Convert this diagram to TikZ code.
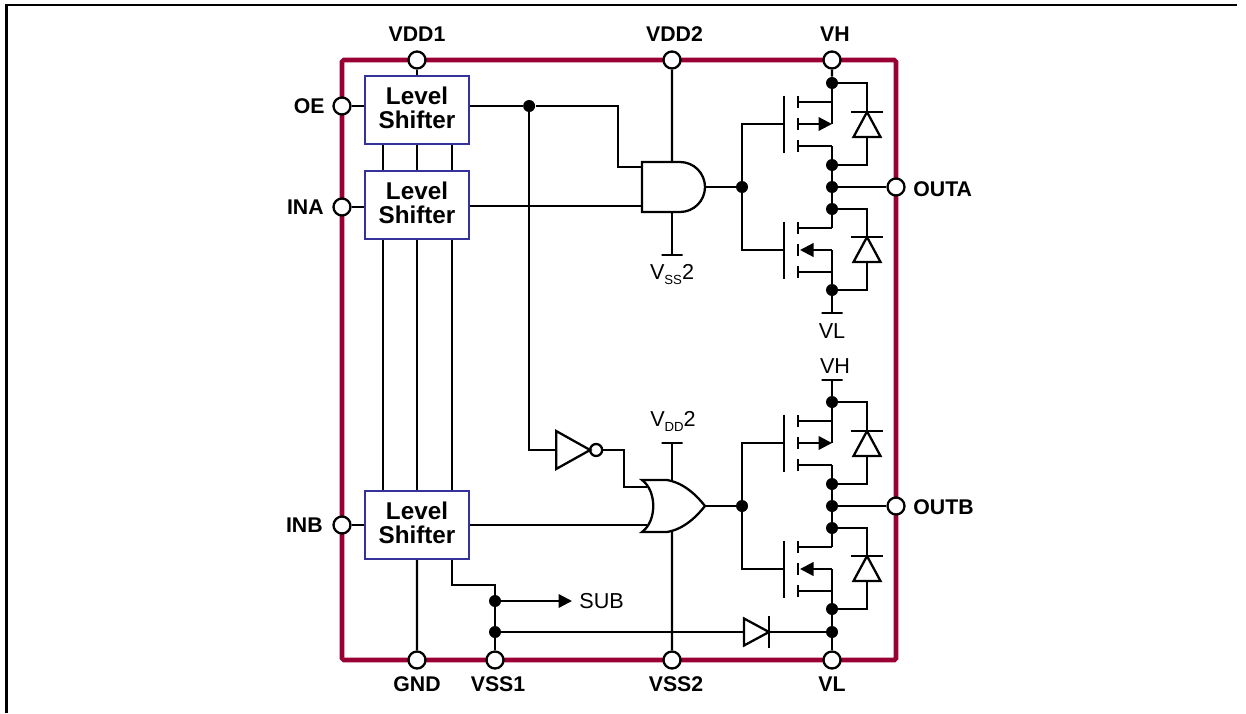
\documentclass[tikz,border=0pt]{standalone}
\usepackage{fontspec}
\setmainfont{Liberation Sans}
\usepackage{xcolor}
\usepackage{tikz}
\usetikzlibrary{arrows.meta, positioning}

\definecolor{framered}{HTML}{990033}
\definecolor{boxblue}{HTML}{333399}
\newcommand{\railsub}[1]{\raisebox{-.45ex}{\fontsize{7.5}{8}\selectfont #1}}
\newcommand{\shiftertext}{Level\\Shifter\rule[-.1cm]{0pt}{0pt}}

\tikzset{
	wire/.style={line width=1.3pt},
	arrowwire/.style={wire, -{Triangle[length=.27cm,width=.27cm]}},
	gridpoint/.style={inner sep=0pt, outer sep=0pt, minimum size=0pt},
	junction/.style={circle, fill=black, inner sep=0pt, minimum size=.24cm},
	pin/.style={circle, draw, wire, fill=white, inner sep=0pt, minimum size=.34cm},
	rail/.style={draw, wire, inner sep=0pt, minimum width=.42cm, minimum height=0pt},
	shifter/.style={draw=boxblue, line width=1.3pt, fill=white, minimum width=2.08cm, minimum height=1.36cm,
		inner sep=0pt, align=center, font=\fontsize{13.8}{13.4}\selectfont\bfseries},
	pinlabel/.style={inner sep=0pt, font=\fontsize{12.1}{13}\selectfont\bfseries},
	netlabel/.style={inner sep=0pt, font=\fontsize{12.3}{14}\selectfont},
	fetbars/.pic={
		\draw[wire] (0,.57) -- (0,-.57);
		\foreach \y in {.44,0,-.44}
			\draw[wire] (.28,\y+.12) -- (.28,\y-.12);
		\draw[wire] (.28,.44) -- (.96,.44);
		\draw[wire] (.28,-.44) -- (.96,-.44);
	},
	diode/.pic={
		\draw[wire] (-.32,0) -- (.32,0);
		\draw[wire] (0,0) -- (-.27,-.5) -- (.27,-.5) -- cycle;
	},
}

\begin{document}
\begin{tikzpicture}[on grid, node distance=2cm]
	\useasboundingbox (0,0) rectangle (24.92,-14.26);

	% page rule
	\coordinate (pagecorner)	at (.132,-.106);
	\coordinate (pagetop)		at (24.74,-.106);
	\coordinate (pageleft)		at (.132,-14.26);
	\draw[line width=1.3pt] (pagetop) -- (pagecorner) -- (pageleft);

	% package outline
	\node[gridpoint] (nw) at (6.84,-1.2)	{};
	\node[gridpoint] (se) at (17.92,-13.2)	{};
	\draw[framered, line width=2.6pt, rounded corners=1pt] (nw) rectangle (se);

	% pins
	\node[pin]	(vddone)	[right=1.5cm of nw]		{};
	\node[pin]	(vddtwo)	[right=6.6cm of nw]		{};
	\node[pin]	(vhpin)		[right=9.8cm of nw]		{};
	\node[pin]	(oe)		[below=.92cm of nw]		{};
	\node[pin]	(ina)		[below=2.94cm of nw]	{};
	\node[pin]	(inb)		[below=9.3cm of nw]		{};
	\node[pin]	(outa)		[above=9.46cm of se]	{};
	\node[pin]	(outb)		[above=3.08cm of se]	{};
	\node[pin]	(gnd)		[left=9.58cm of se]		{};
	\node[pin]	(vssone)	[left=8.02cm of se]		{};
	\node[pin]	(vsstwo)	[left=4.48cm of se]		{};
	\node[pin]	(vlpin)		[left=1.28cm of se]		{};

	\node[pinlabel]	(vddonetxt)	[above=.52cm of vddone]				{VDD1};
	\node[pinlabel]	(vddtwotxt)	[above=.52cm of vddtwo, xshift=.05cm]	{VDD2};
	\node[pinlabel]	(vhpintxt)	[above=.52cm of vhpin, xshift=.06cm]	{VH};
	\node[pinlabel]	(oetxt)		[left=.34cm of oe, anchor=east]		{OE};
	\node[pinlabel]	(inatxt)	[left=.36cm of ina, anchor=east]	{INA};
	\node[pinlabel]	(inbtxt)	[left=.38cm of inb, anchor=east]	{INB};
	\node[pinlabel]	(outatxt)	[right=.34cm of outa, anchor=west, yshift=-.05cm]	{OUTA};
	\node[pinlabel]	(outbtxt)	[right=.34cm of outb, anchor=west, yshift=-.03cm]	{OUTB};
	\node[pinlabel]	(gndtxt)	[below=.48cm of gnd]				{GND};
	\node[pinlabel]	(vssonetxt)	[below=.48cm of vssone, xshift=.06cm]	{VSS1};
	\node[pinlabel]	(vsstwotxt)	[below=.48cm of vsstwo, xshift=.08cm]	{VSS2};
	\node[pinlabel]	(vlpintxt)	[below=.48cm of vlpin]				{VL};

	% level shifters
	\node[shifter]	(shiftone)		[below=1cm of vddone]		{\shiftertext};
	\node[shifter]	(shifttwo)		[below=1.9cm of shiftone]	{\shiftertext};
	\node[shifter]	(shiftthree)	[below=6.4cm of shifttwo]	{\shiftertext};

	\path[wire]
		(vddone)	edge	(shiftone.north)
		(shiftthree.south)	edge	(gnd)
		(oe)		edge	(oe -| shiftone.west)
		(ina)		edge	(ina -| shifttwo.west)
		(inb)		edge	(inb -| shiftthree.west)
		;
	\foreach \x in {-.68,0,.7} {
		\draw[wire] ([xshift=\x cm]shiftone.south) -- ([xshift=\x cm]shifttwo.north);
		\draw[wire] ([xshift=\x cm]shifttwo.south) -- ([xshift=\x cm]shiftthree.north);
	}

	% half bridges
	\foreach \k in {a,b} {
		\node[junction]	(mid\k)		[left=1.28cm of out\k]		{};
		\node[junction]	(drive\k)	[left=1.8cm of mid\k]		{};
		\node[junction]	(up\k)		[above=.44cm of mid\k]		{};
		\node[junction]	(dn\k)		[below=.44cm of mid\k]		{};
		\node[junction]	(sup\k)		[above=2.08cm of mid\k]		{};
		\node[junction]	(sink\k)	[below=2.06cm of mid\k]		{};
		\coordinate[left=2cm of drive\k]			(gate\k);
		\coordinate[right=1.26cm of gate\k]			(tip\k);
		\coordinate[above=1.26cm of mid\k]			(hisrc\k);
		\coordinate[below=1.26cm of mid\k]			(losrc\k);
		\coordinate[above=.82cm of mid\k]			(hidrn\k);
		\coordinate[below=.82cm of mid\k]			(lodrn\k);
		\coordinate[left=.96cm of hisrc\k]			(hig\k);
		\coordinate[left=.96cm of losrc\k]			(log\k);
		\coordinate[above right=1.5cm and .7cm of mid\k]	(hid\k);
		\coordinate[above right=1cm and .7cm of mid\k]		(hib\k);
		\coordinate[below right=1cm and .7cm of mid\k]		(lod\k);
		\coordinate[below right=1.5cm and .7cm of mid\k]	(lob\k);

		\pic at (hig\k) {fetbars};
		\pic at (log\k) {fetbars};
		\pic at (hid\k) {diode};
		\pic at (lod\k) {diode};

		\draw[wire] (sup\k) -- (hisrc\k);
		\draw[wire] (hidrn\k) -- (lodrn\k);
		\draw[wire] (losrc\k) -- (sink\k);
		\draw[wire] (mid\k) -- (out\k);
		\draw[wire] (tip\k) -- (drive\k);
		\draw[wire] (hig\k) -| (drive\k) |- (log\k);
		\draw[wire] (sup\k) -| (hid\k);
		\draw[wire] (hib\k) |- (up\k);
		\draw[wire] (dn\k) -| (lod\k);
		\draw[wire] (lob\k) |- (sink\k);
		\draw[arrowwire] ([xshift=.28cm]hig\k) -- (hisrc\k);
		\draw[arrowwire] (losrc\k) -- ([xshift=.32cm]log\k);
	}

	% supply rails
	\coordinate[above right=.5cm and .6cm of gatea]		(andtop);
	\coordinate[below right=.5cm and .6cm of gatea]		(andbot);
	\coordinate[above right=.5cm and .6cm of gateb]		(ortop);
	\coordinate[below right=.5cm and .6cm of gateb]		(orbot);
	\node[rail]	(vssrail)	[below=.84cm of andbot]		{};
	\node[rail]	(vddrail)	[above=.74cm of ortop]		{};
	\node[rail]	(vlrail)	[below=.46cm of sinka]		{};
	\node[rail]	(vhrail)	[above=.44cm of supb]		{};
	\node[netlabel]	(vsstxt)	[below=.38cm of vssrail]				{V\railsub{SS}2};
	\node[netlabel]	(vddtxt)	[above=.42cm of vddrail, xshift=.02cm]	{V\railsub{DD}2};
	\node[netlabel]	(vltxt)		[below=.36cm of vlrail]					{VL};
	\node[netlabel]	(vhtxt)		[above=.28cm of vhrail, xshift=.06cm]	{VH};

	\path[wire]
		(vddtwo)	edge	(andtop)
		(andbot)	edge	(vssrail)
		(vddrail)	edge	(ortop)
		(orbot)		edge	(vsstwo)
		(vhpin)		edge	(supa)
		(sinka)		edge	(vlrail)
		(vhrail)	edge	(supb)
		(sinkb)		edge	(vlpin)
		;

	% logic wiring
	\node[gridpoint] (oeout) at (oe -| shiftone.east) {};
	\node[junction]	(branch)	[right=1.18cm of oeout]		{};
	\coordinate[above=.4cm of gatea]			(andone);
	\coordinate[below=.38cm of gatea]			(andtwo);
	\coordinate[left=.48cm of andone]			(andelbow);
	\coordinate[above right=.38cm and .1cm of gateb]	(orone);
	\coordinate[below right=.38cm and .1cm of gateb]	(ortwo);
	\coordinate[left=.46cm of orone]			(orelbow);
	\coordinate[below right=6.88cm and .54cm of branch]	(invin);
	\node[gridpoint] (invtip)	[right=.68cm of invin]		{};
	\node[pin, minimum size=.24cm]	(invout)	[right=.12cm of invtip]		{};

	\draw[wire] (oeout) -- (branch);
	\draw[wire] (branch) -| (andelbow) -- (andone);
	\draw[wire] (andtwo -| shifttwo.east) -- (andtwo);
	\draw[wire] (branch) |- (invin);
	\draw[wire] (invout) -| (orelbow) -- (orone);
	\draw[wire] (ortwo -| shiftthree.east) -- (ortwo);

	% gates
	\draw[wire, fill=white] (gatea) ++(0,.5) -- ++(.76,0) arc[start angle=90, end angle=-90, radius=.5] -- ++(-.76,0) -- cycle;
	\draw[wire, fill=white] (gateb) ++(0,.52) -- ++(.5,0)
		.. controls +(.35,-.06) and +(-.16,.2) .. ++(.76,-.52)
		.. controls +(-.16,-.2) and +(.35,.06) .. ++(-.76,-.52)
		-- ++(-.5,0)
		.. controls +(.3,.22) and +(.3,-.22) .. cycle;
	\draw[wire] (invin) ++(0,.38) -- (invtip.center) -- ++(-.68,-.38) -- cycle;

	% substrate and clamp
	\coordinate[above=1.5cm of vssone]			(subbend);
	\node[junction]	(subdot)	[above=1.18cm of vssone]	{};
	\node[junction]	(clampdot)	[above=.56cm of vssone]		{};
	\node[junction]	(vlclamp)	[above=.56cm of vlpin]		{};
	\coordinate[right=1.54cm of subdot]			(subtip);
	\coordinate[left=1.26cm of vlclamp]			(clampapex);
	\coordinate[left=.5cm of clampapex]			(clampbase);
	\node[netlabel]	(subtxt)	[right=.14cm of subtip, anchor=west]	{SUB};

	\pic[rotate=-90] at (clampapex) {diode};
	\draw[wire] ([xshift=.7cm]shiftthree.south) |- (subbend) -- (vssone);
	\draw[arrowwire] (subdot) -- (subtip);
	\draw[wire] (clampdot) -- (clampbase);
	\draw[wire] (clampapex) -- (vlclamp);
\end{tikzpicture}
\end{document}
